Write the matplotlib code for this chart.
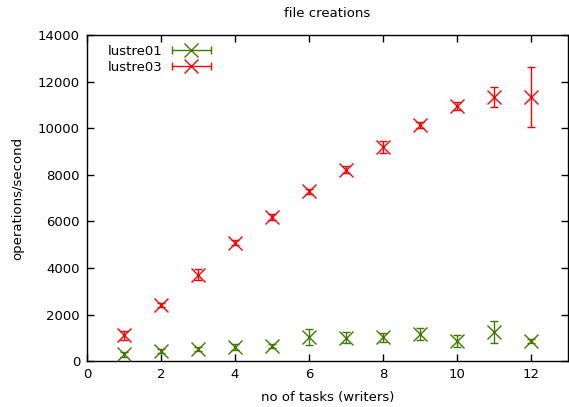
import matplotlib
matplotlib.use('Agg')
import matplotlib.pyplot as plt
from matplotlib.lines import Line2D
from matplotlib.legend_handler import HandlerBase

tasks = [1, 2, 3, 4, 5, 6, 7, 8, 9, 10, 11, 12]
lustre01 = [280, 420, 510, 600, 630, 1020, 1010, 1020, 1170, 860, 1240, 850]
lustre01_err = [110, 90, 80, 110, 80, 340, 250, 200, 270, 250, 460, 90]
lustre03 = [1110, 2400, 3720, 5090, 6200, 7300, 8230, 9210, 10130, 10980, 11360, 11370]
lustre03_err = [200, 80, 220, 120, 130, 110, 140, 260, 130, 170, 430, 1290]

green = '#3f7a00'
red = '#ff0000'


class GnuplotErrHandler(HandlerBase):
    # horizontal sample line with end caps and a marker in the middle, like gnuplot keys
    def create_artists(self, legend, orig_handle, xdescent, ydescent, width, height, fontsize, trans):
        c = orig_handle.get_color()
        y = height / 2 - ydescent
        x0, x1 = -xdescent, width - xdescent
        line = Line2D([x0, x1], [y, y], color=c, lw=1)
        caps = Line2D([x0, x1], [y, y], color=c, lw=0, marker='|', markersize=6, mew=1)
        mark = Line2D([(x0 + x1) / 2], [y], color=c, lw=0, marker='x', markersize=10, mew=1)
        for a in (line, caps, mark):
            a.set_transform(trans)
        return [line, caps, mark]


plt.rcParams['font.family'] = 'DejaVu Sans'
plt.rcParams['font.size'] = 9.5

fig = plt.figure(figsize=(5.69, 4.07), dpi=100)
ax = fig.add_axes([87 / 569, 46 / 407, 481 / 569, 325.5 / 407])

ax.errorbar(tasks, lustre01, yerr=lustre01_err, fmt='x', color=green, ms=10, mew=1,
            elinewidth=1, capsize=3, capthick=1, zorder=3)
ax.errorbar(tasks, lustre03, yerr=lustre03_err, fmt='x', color=red, ms=10, mew=1,
            elinewidth=1, capsize=3, capthick=1, zorder=3)

ax.set_xlim(0, 13)
ax.set_ylim(0, 14000)
ax.set_xticks(range(0, 13, 2))
ax.set_yticks(range(0, 14001, 2000))
ax.tick_params(direction='in', top=True, right=True, length=5, width=1, colors='black',
               labelsize=9.5, pad=5)
for s in ax.spines.values():
    s.set_linewidth(1)

ax.set_title('file creations', fontsize=9.5, pad=13)
ax.set_xlabel('no of tasks (writers)', fontsize=9.5, labelpad=7)
ax.set_ylabel('operations/second', fontsize=9.5, labelpad=10)

h1 = Line2D([], [], color=green)
h2 = Line2D([], [], color=red)
ax.legend([h1, h2], ['lustre01', 'lustre03'], loc='upper left', frameon=False,
          markerfirst=False, handlelength=3.0, handletextpad=0.7, labelspacing=0.25,
          borderaxespad=0.0, bbox_to_anchor=(0.032, 0.988),
          handler_map={Line2D: GnuplotErrHandler()})

fig.savefig('out.png', dpi=100)
